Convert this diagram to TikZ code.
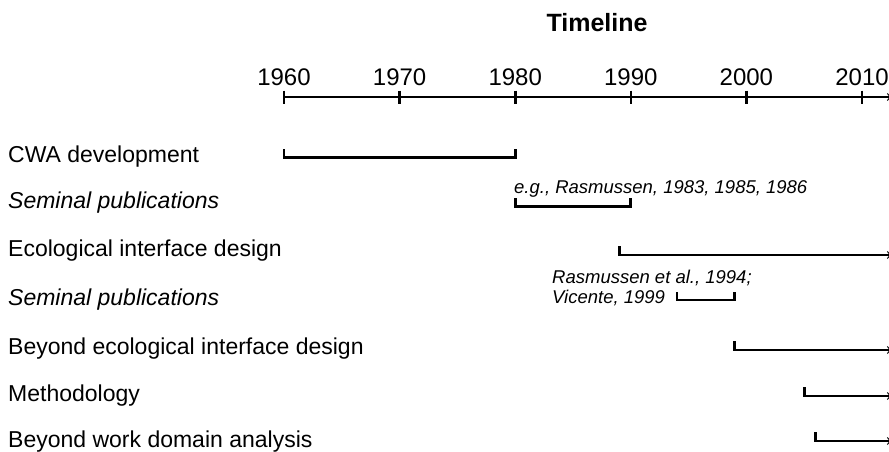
\documentclass[tikz,border=0pt]{standalone}
\usepackage{fontspec}
\setmainfont{Liberation Sans}
\usetikzlibrary{arrows.meta}
\begin{document}
\begin{tikzpicture}[x=1pt,y=-1pt,
  bar/.style={line width=2.8pt},
  axisline/.style={line width=2.6pt},
  label/.style={anchor=base west,inner sep=0pt,font=\fontsize{23}{23}\selectfont},
  seminal/.style={label,font=\fontsize{23}{23}\selectfont\itshape},
  cite/.style={anchor=base west,inner sep=0pt,font=\fontsize{18.5}{18.5}\selectfont\itshape},
  yearlbl/.style={anchor=base,inner sep=0pt,font=\fontsize{24}{24}\selectfont},
  tip/.style={-{Straight Barb[length=3pt,width=7pt,line width=1pt]}}]
\useasboundingbox (0,0) rectangle (889,452);
% year -> horizontal position
\def\yx#1{{284+((#1)-1960)*11.56}}

% title and axis
\node[font=\bfseries\fontsize{25}{25}\selectfont,inner sep=0pt,anchor=base] (title) at (597,31.5) {Timeline};
\coordinate (axstart) at (\yx{1960},97);
\coordinate (axend) at (891,97);
\draw[axisline,tip] (axstart) -- (axend);
\foreach \y in {1960,1970,1980,1990,2000,2010}{
  \draw[axisline] (\yx{\y},90.5) -- (\yx{\y},104);
  \node[yearlbl] (y\y) at (\yx{\y},85) {\y};
}

% row labels
\node[label]   (cwa)  at (8,162) {CWA development};
\node[seminal] (sem1) at (8,208) {Seminal publications};
\node[label]   (eid)  at (8,256) {Ecological interface design};
\node[seminal] (sem2) at (8,305) {Seminal publications};
\node[label]   (beid) at (8,354) {Beyond ecological interface design};
\node[label]   (meth) at (8,401) {Methodology};
\node[label]   (bwda) at (8,447) {Beyond work domain analysis};

% citation notes (two tightly spaced lines)
\node[cite] (c1)  at (514,193) {e.g., Rasmussen, 1983, 1985, 1986};
\node[cite,text depth=2pt]   (c2a) at (552,283) {Rasmussen et al., 1994;};
\node[cite,text height=13pt] (c2b) at (552,303.5) {Vicente, 1999};

% spans
\draw[bar] (\yx{1960},149) -- (\yx{1960},157.5) -- (\yx{1980},157.5) -- (\yx{1980},149);
\draw[bar] (\yx{1980},198) -- (\yx{1980},206.5) -- (\yx{1990},206.5) -- (\yx{1990},198);
\draw[bar] (\yx{1994},292) -- (\yx{1994},300) -- (\yx{1999},300) -- (\yx{1999},292);
\coordinate (e1) at (891,255);
\coordinate (e2) at (891,350);
\coordinate (e3) at (891,396);
\coordinate (e4) at (891,441);
\draw[bar,tip] (\yx{1989},246) -- (\yx{1989},255) -- (e1);
\draw[bar,tip] (\yx{1999},341) -- (\yx{1999},350) -- (e2);
\draw[bar,tip] (\yx{2005},387) -- (\yx{2005},396) -- (e3);
\draw[bar,tip] (\yx{2006},432) -- (\yx{2006},441) -- (e4);
\end{tikzpicture}
\end{document}
